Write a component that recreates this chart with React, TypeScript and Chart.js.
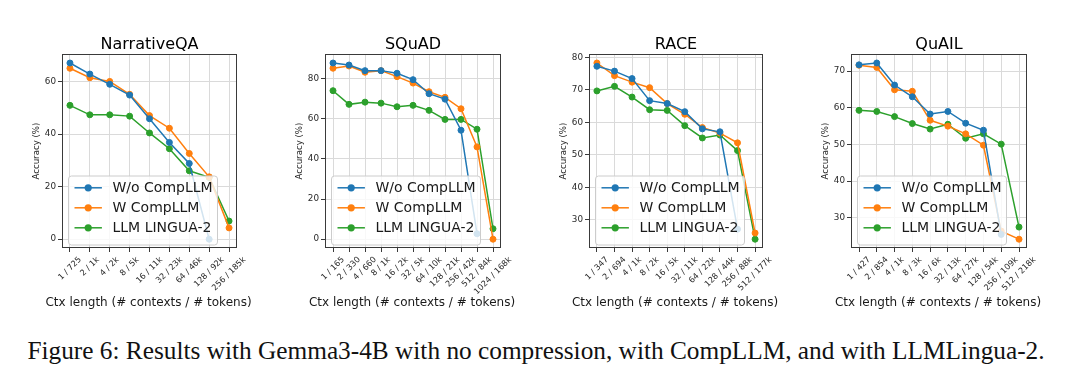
import React, { useEffect, useRef } from "react";
import { Chart, registerables } from "chart.js";

Chart.register(...registerables);
Chart.defaults.font.family = "'DejaVu Sans', sans-serif";

const seriesLabels = ["W/o CompLLM", "W CompLLM", "LLM LINGUA-2"];
const seriesColors = ["#1f77b4", "#ff7f0e", "#2ca02c"];

// NarrativeQA
const nqaCategories = ["1 / 725", "2 / 1k", "4 / 2k", "8 / 5k", "16 / 11k", "32 / 23k", "64 / 46k", "128 / 92k", "256 / 185k"];
const nqaWo = [67, 62.8, 58.9, 54.8, 45.8, 36.8, 28.8, 0];
const nqaW = [65, 61.4, 60, 55.1, 47, 42.2, 32.6, 23.7, 4.3];
const nqaLingua = [50.9, 47.3, 47.3, 46.8, 40.4, 34.4, 26, 23.5, 6.9];
const nqaYTicks = [0, 20, 40, 60];

// SQuAD
const squadCategories = ["1 / 165", "2 / 330", "4 / 660", "8 / 1k", "16 / 2k", "32 / 5k", "64 / 10k", "128 / 21k", "256 / 42k", "512 / 84k", "1024 / 168k"];
const squadWo = [87.8, 86.8, 84, 84, 82.7, 79.5, 72.5, 69.8, 54.3, 2.7];
const squadW = [85.2, 86.3, 83.2, 84, 81, 77.8, 73.5, 70.7, 65, 46, 0];
const squadLingua = [74, 67.2, 68.3, 67.8, 66, 66.7, 64.2, 59.7, 59.7, 54.8, 5.2];
const squadYTicks = [0, 20, 40, 60, 80];

// RACE
const raceCategories = ["1 / 347", "2 / 694", "4 / 1k", "8 / 2k", "16 / 5k", "32 / 11k", "64 / 22k", "128 / 44k", "256 / 88k", "512 / 177k"];
const raceWo = [77.3, 75.8, 73.5, 66.7, 65.8, 63.3, 58, 57.1, 27.1];
const raceW = [78.3, 74.4, 72.4, 70.7, 65.8, 62.5, 58.4, 56.7, 53.7, 25.9];
const raceLingua = [69.7, 71.1, 67.8, 63.9, 63.7, 59, 55.2, 56.1, 51.3, 24];
const raceYTicks = [30, 40, 50, 60, 70, 80];

// QuAIL
const quailCategories = ["1 / 427", "2 / 854", "4 / 1k", "8 / 3k", "16 / 6k", "32 / 13k", "64 / 27k", "128 / 54k", "256 / 109k", "512 / 218k"];
const quailWo = [71.7, 72.2, 66.2, 63, 58.3, 59, 55.8, 53.9, 25.5];
const quailW = [71.6, 71, 64.9, 64.5, 56.6, 55, 52.9, 49.8, 26.4, 24.2];
const quailLingua = [59.3, 59, 57.6, 55.7, 54.2, 55.5, 51.7, 52.9, 50.1, 27.5];
const quailYTicks = [30, 40, 50, 60, 70];

const xTitle = "Ctx length (# contexts / # tokens)";
const yTitle = "Accuracy (%)";
const caption = "Figure 6: Results with Gemma3-4B with no compression, with CompLLM, and with LLMLingua-2.";

type PanelDef = {
  title: string;
  categories: string[];
  series: number[][];
  yTicks: number[];
  frameLeft: number;
  frameRight: number;
};

const panels: PanelDef[] = [
  { title: "NarrativeQA", categories: nqaCategories, series: [nqaWo, nqaW, nqaLingua], yTicks: nqaYTicks, frameLeft: 62, frameRight: 237 },
  { title: "SQuAD", categories: squadCategories, series: [squadWo, squadW, squadLingua], yTicks: squadYTicks, frameLeft: 325, frameRight: 501 },
  { title: "RACE", categories: raceCategories, series: [raceWo, raceW, raceLingua], yTicks: raceYTicks, frameLeft: 589, frameRight: 763 },
  { title: "QuAIL", categories: quailCategories, series: [quailWo, quailW, quailLingua], yTicks: quailYTicks, frameLeft: 851, frameRight: 1027 },
];

const CANVAS_TOP = 30;
const CANVAS_H = 300;
const Y_AXIS_W = 45;
const PAD_RIGHT = 32;
const FRAME_BOTTOM = 248;
const X_TICK_FONT = 8.2;
const X_TITLE_Y = 303.3;

const boxLegendPlugin = {
  id: "boxLegend",
  afterDatasetsDraw(chart: any) {
    const { ctx, chartArea: a } = chart;
    ctx.save();
    // axes frame
    ctx.strokeStyle = "#3a3a3a";
    ctx.lineWidth = 1;
    ctx.strokeRect(Math.round(a.left) + 0.5, Math.round(a.top) + 0.5, Math.round(a.right - a.left) - 1, Math.round(a.bottom - a.top) - 1);
    // legend box
    const w = 149;
    const h = 69;
    const x = a.left + 6.5;
    const y = a.bottom - 3 - h;
    const r = 3;
    ctx.beginPath();
    ctx.moveTo(x + r, y);
    ctx.lineTo(x + w - r, y);
    ctx.quadraticCurveTo(x + w, y, x + w, y + r);
    ctx.lineTo(x + w, y + h - r);
    ctx.quadraticCurveTo(x + w, y + h, x + w - r, y + h);
    ctx.lineTo(x + r, y + h);
    ctx.quadraticCurveTo(x, y + h, x, y + h - r);
    ctx.lineTo(x, y + r);
    ctx.quadraticCurveTo(x, y, x + r, y);
    ctx.closePath();
    ctx.fillStyle = "rgba(255,255,255,0.8)";
    ctx.fill();
    ctx.strokeStyle = "#cccccc";
    ctx.lineWidth = 1;
    ctx.stroke();
    chart.data.datasets.forEach((ds: any, i: number) => {
      const cy = y + 11.8 + 20 * i;
      ctx.strokeStyle = ds.borderColor;
      ctx.lineWidth = 1.5;
      ctx.beginPath();
      ctx.moveTo(x + 6, cy);
      ctx.lineTo(x + 33.4, cy);
      ctx.stroke();
      ctx.fillStyle = ds.borderColor;
      ctx.beginPath();
      ctx.arc(x + 19.7, cy, 3.6, 0, Math.PI * 2);
      ctx.fill();
      ctx.fillStyle = "#1a1a1a";
      ctx.font = "14px 'DejaVu Sans'";
      ctx.textBaseline = "middle";
      ctx.textAlign = "left";
      ctx.fillText(ds.label, x + 44, cy + 0.5);
    });
    ctx.restore();
  },
};

// matplotlib-like rotated x tick labels (rotation 45, centred on the tick) and x-axis title
function makeXLabelPlugin(categories: string[]) {
  return {
    id: "xLabels45",
    afterDraw(chart: any) {
      const { ctx, chartArea: a } = chart;
      const xs = chart.scales.x;
      ctx.save();
      ctx.font = `${X_TICK_FONT}px 'DejaVu Sans'`;
      ctx.fillStyle = "#2a2a2a";
      ctx.textAlign = "center";
      ctx.textBaseline = "middle";
      const hgt = X_TICK_FONT * 1.17;
      categories.forEach((lab, i) => {
        const px = xs.getPixelForValue(i);
        const wdt = ctx.measureText(lab).width;
        const half = ((wdt + hgt) * Math.SQRT1_2) / 2;
        ctx.save();
        ctx.translate(px, a.bottom + 7 + half);
        ctx.rotate(-Math.PI / 4);
        ctx.fillText(lab, 0, 0);
        ctx.restore();
      });
      ctx.font = "12px 'DejaVu Sans'";
      ctx.fillStyle = "#1a1a1a";
      ctx.fillText(xTitle, (a.left + a.right) / 2 - 1, X_TITLE_Y - CANVAS_TOP);
      ctx.restore();
    },
  };
}

function Panel({ def }: { def: PanelDef }) {
  const ref = useRef<HTMLCanvasElement | null>(null);
  const canvasLeft = def.frameLeft - Y_AXIS_W;
  const canvasW = def.frameRight - canvasLeft + PAD_RIGHT;

  useEffect(() => {
    if (!ref.current) return;
    const n = def.categories.length;
    const all = def.series.flat();
    const lo = Math.min(...all);
    const hi = Math.max(...all);
    const m = (hi - lo) * 0.05;
    const chart = new Chart(ref.current, {
      type: "line",
      data: {
        datasets: def.series.map((arr, si) => ({
          label: seriesLabels[si],
          data: arr.map((v, i) => ({ x: i, y: v })),
          borderColor: seriesColors[si],
          backgroundColor: seriesColors[si],
          borderWidth: 1.5,
          pointRadius: 3,
          pointBorderWidth: 1,
          pointBackgroundColor: seriesColors[si],
          pointBorderColor: seriesColors[si],
          tension: 0,
          fill: false,
        })),
      },
      options: {
        responsive: false,
        animation: false,
        devicePixelRatio: 1,
        layout: { padding: { top: 5, left: 0, right: PAD_RIGHT, bottom: 0 } },
        plugins: {
          legend: { display: false },
          tooltip: { enabled: false },
          title: {
            display: true,
            fullSize: false,
            text: def.title,
            color: "#000",
            font: { size: 16, weight: "normal", lineHeight: 1.2 },
            padding: 0,
          },
        },
        scales: {
          x: {
            type: "linear",
            min: -0.05 * (n - 1),
            max: (n - 1) * 1.05,
            afterBuildTicks: (scale: any) => {
              scale.ticks = def.categories.map((_, i) => ({ value: i }));
            },
            afterFit: (scale: any) => {
              scale.height = CANVAS_TOP + CANVAS_H - FRAME_BOTTOM;
            },
            border: { display: false },
            grid: { color: "#dadada", lineWidth: 1, tickColor: "#3a3a3a", tickLength: 4, drawTicks: true },
            ticks: { display: false, autoSkip: false },
            title: { display: false },
          },
          y: {
            type: "linear",
            min: lo - m,
            max: hi + m,
            afterBuildTicks: (scale: any) => {
              scale.ticks = def.yTicks.map((v) => ({ value: v }));
            },
            afterFit: (scale: any) => {
              scale.width = Y_AXIS_W;
            },
            border: { display: false },
            grid: { color: "#dadada", lineWidth: 1, tickColor: "#3a3a3a", tickLength: 4, drawTicks: true },
            ticks: { padding: 2, color: "#2a2a2a", font: { size: 8.8 } },
            title: {
              display: true,
              text: yTitle,
              color: "#1a1a1a",
              font: { size: 8.6, lineHeight: 1.2 },
              padding: { top: 14.4, bottom: 0 },
            },
          },
        },
      },
      plugins: [boxLegendPlugin, makeXLabelPlugin(def.categories)],
    } as any);
    return () => chart.destroy();
  }, [def]);

  return (
    <canvas
      ref={ref}
      width={canvasW}
      height={CANVAS_H}
      style={{ position: "absolute", left: canvasLeft, top: CANVAS_TOP, width: canvasW, height: CANVAS_H }}
    />
  );
}

export default function App() {
  return (
    <div style={{ position: "fixed", left: 0, top: 0, width: 1080, height: 392, background: "#fff", overflow: "hidden" }}>
      {panels.map((p) => (
        <Panel key={p.title} def={p} />
      ))}
      <div
        style={{
          position: "absolute",
          left: 0,
          top: 339,
          width: 1080,
          textAlign: "center",
          fontFamily: "'Liberation Serif', 'Times New Roman', serif",
          fontSize: 24.5,
          lineHeight: "24px",
          color: "#111",
          whiteSpace: "nowrap",
          transform: "translateX(-4px) scaleX(1.033)",
          transformOrigin: "540px 50%",
        }}
      >
        {caption}
      </div>
    </div>
  );
}
